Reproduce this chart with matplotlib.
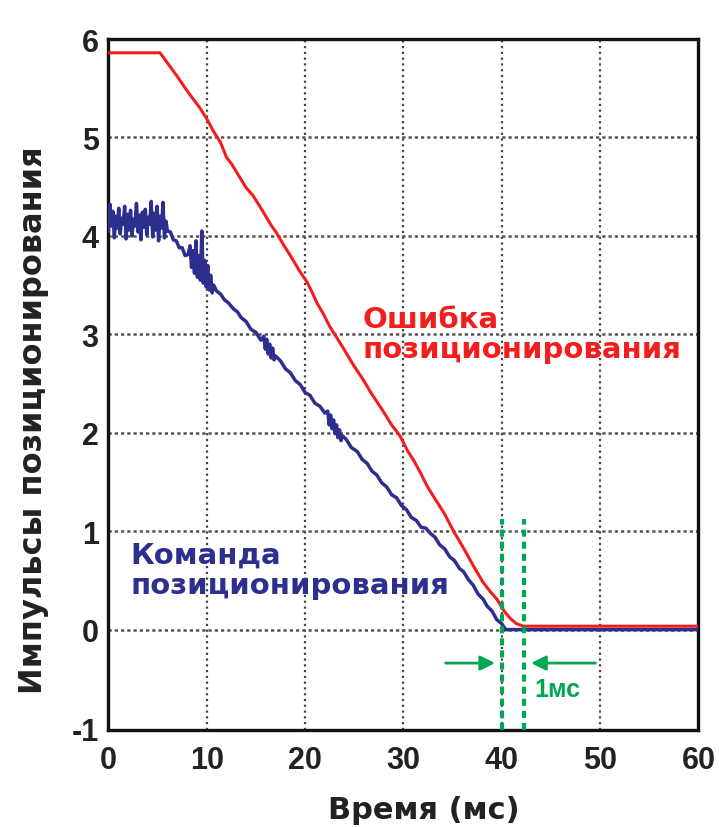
import matplotlib
matplotlib.use('Agg')
import matplotlib.pyplot as plt

plt.rcParams['axes.unicode_minus'] = False

# --- data ---
# position error (red)
err_t = [0, 5.25, 6.2, 7.0, 8.1, 9.3, 10.0, 10.7, 11.4, 12.0, 12.6, 13.2, 14.0, 14.7,
         15.4, 16.0, 16.6, 17.1, 17.8, 18.5, 19.4, 20.2, 20.7, 21.2, 21.9, 22.5,
         23.2, 24.0, 24.9, 25.9, 26.8, 27.8, 28.8, 29.7, 30.4, 31.1, 31.8, 32.4,
         33.2, 34.1, 35.1, 36.1, 37.1, 38.1, 38.8, 39.5, 40.3, 40.9, 41.5, 42.2, 60]
err_y = [5.86, 5.86, 5.73, 5.62, 5.46, 5.30, 5.19, 5.06, 4.95, 4.80, 4.72, 4.62, 4.49, 4.41,
         4.30, 4.20, 4.10, 4.03, 3.91, 3.80, 3.65, 3.53, 3.43, 3.32, 3.20, 3.08,
         2.97, 2.84, 2.69, 2.54, 2.39, 2.24, 2.08, 1.96, 1.82, 1.71, 1.58, 1.46,
         1.33, 1.19, 1.00, 0.83, 0.65, 0.48, 0.39, 0.31, 0.18, 0.11, 0.06, 0.035, 0.035]

# position command (blue)
cmd_t = [0.0, 0.15, 0.3, 0.45, 0.6, 0.75, 0.9, 1.05, 1.2, 1.35, 1.5, 1.65, 1.8, 1.95,
         2.1, 2.25, 2.4, 2.55, 2.7, 2.85, 3.0, 3.15, 3.3, 3.45, 3.6, 3.75, 3.9, 4.05,
         4.2, 4.35, 4.5, 4.65, 4.8, 4.95, 5.1, 5.25, 5.4, 5.55, 5.7, 5.85, 6.0,
         6.3, 6.6, 6.9, 7.2, 7.5, 7.8, 8.1,
         8.3, 8.45, 8.6, 8.75, 8.9, 9.05, 9.2, 9.35, 9.5, 9.65, 9.8, 9.95, 10.1, 10.25,
         10.4, 10.55, 10.7,
         11.0, 11.4, 11.8, 12.2, 12.7, 13.1, 13.5, 14.0, 14.5, 15.0, 15.5,
         15.8, 15.95, 16.1, 16.25, 16.4, 16.55, 16.7, 16.85, 17.0,
         17.5, 18.0, 18.5, 19.0, 19.5, 20.0, 20.5, 21.0, 21.5, 22.0,
         22.3, 22.45, 22.6, 22.75, 22.9, 23.05, 23.2, 23.35, 23.5, 23.65, 23.8,
         24.2, 24.7, 25.3, 25.8, 26.3, 26.8, 27.3, 27.8, 28.3, 28.8, 29.3, 29.8,
         30.3, 30.8, 31.3, 31.8, 32.3, 32.7, 33.2, 33.7, 34.2, 34.7, 35.2, 35.7,
         36.1, 36.6, 37.1, 37.6, 38.1, 38.5, 39.0, 39.5, 40.0, 40.4, 60]
cmd_y = [4.05, 4.32, 4.10, 4.25, 3.98, 4.20, 4.08, 4.28, 4.02, 4.18, 4.12, 4.30, 3.97, 4.22,
         4.06, 4.26, 4.00, 4.17, 4.10, 4.33, 4.04, 4.21, 3.96, 4.24, 4.09, 4.27, 4.01, 4.19,
         4.12, 4.35, 3.99, 4.23, 4.06, 4.30, 3.95, 4.20, 4.08, 4.34, 3.98, 4.15, 4.05,
         4.04, 3.96, 3.95, 3.88, 3.88, 3.80, 3.81,
         3.90, 3.68, 3.85, 3.62, 3.95, 3.58, 3.80, 3.55, 4.05, 3.52, 3.75, 3.48, 3.70, 3.45,
         3.60, 3.42, 3.50,
         3.44, 3.41, 3.35, 3.32, 3.26, 3.23, 3.17, 3.13, 3.05, 3.02, 2.94,
         2.98, 2.85, 2.95, 2.80, 2.90, 2.76, 2.86, 2.74, 2.78,
         2.73, 2.65, 2.61, 2.53, 2.49, 2.41, 2.38, 2.30, 2.27, 2.20,
         2.22, 2.08, 2.18, 2.04, 2.13, 1.99, 2.08, 1.95, 2.03, 1.92, 1.97,
         1.93, 1.85, 1.81, 1.73, 1.69, 1.61, 1.57, 1.49, 1.45, 1.37, 1.34, 1.26,
         1.22, 1.14, 1.11, 1.04, 1.03, 0.98, 0.94, 0.86, 0.82, 0.74, 0.70, 0.62,
         0.59, 0.51, 0.45, 0.36, 0.31, 0.24, 0.19, 0.10, 0.06, 0.0, 0.0]

x_ticks = [0, 10, 20, 30, 40, 50, 60]
y_ticks = [-1, 0, 1, 2, 3, 4, 5, 6]
settle_marks = [40.0, 42.25]   # green dashed lines, 1 ms apart on the label

RED = '#f21d1d'
BLUE = '#2d2f8e'
GREEN = '#00a651'
TICKFONT = 'Liberation Sans'
LABELFONT = 'DejaVu Sans'

fig = plt.figure(figsize=(7.19, 8.29), dpi=100)
ax = fig.add_axes([0.1508, 0.1182, 0.8206, 0.8335])

ax.set_xlim(0, 60)
ax.set_ylim(-1.02, 6.0)
ax.set_xticks(x_ticks)
ax.set_yticks(y_ticks)
ax.tick_params(length=0, labelsize=22)
ax.tick_params(axis='x', pad=11)
ax.tick_params(axis='y', pad=7)
for lab in ax.get_xticklabels() + ax.get_yticklabels():
    lab.set_fontfamily(TICKFONT)
    lab.set_fontweight('bold')
    lab.set_color('#222222')

for s in ax.spines.values():
    s.set_linewidth(2.4)
    s.set_color('#111111')

for x in x_ticks[1:-1]:
    ax.axvline(x, color='#444444', lw=1.6, ls=(0, (1, 1.6)), zorder=1)
for y in y_ticks[1:-1]:
    ax.axhline(y, color='#555555', lw=1.8, ls=(0, (1.3, 1.2)), zorder=1)

ax.plot(err_t, err_y, color=RED, lw=2.2, zorder=3)
ax.plot(cmd_t, cmd_y, color=BLUE, lw=2.5, zorder=4)

# settling window
for xm in settle_marks:
    ax.vlines(xm, -1.02, 1.12, color=GREEN, lw=3.0, ls=(0, (1.7, 1.2)), zorder=5)
arr = dict(arrowstyle='-|>', color=GREEN, lw=2.0, mutation_scale=22)
ax.annotate('', xy=(39.6, -0.34), xytext=(34.0, -0.34), arrowprops=arr)
ax.annotate('', xy=(42.7, -0.34), xytext=(49.8, -0.34), arrowprops=arr)
ax.text(43.3, -0.6, '1мс', color=GREEN, fontsize=18, fontweight='bold',
        family=TICKFONT, va='center', ha='left')

ax.text(25.8, 3.0, 'Ошибка\nпозиционирования', color=RED, fontsize=21,
        fontweight='bold', family=LABELFONT, va='center', ha='left', linespacing=1.1)
ax.text(2.2, 0.61, 'Команда\nпозиционирования', color=BLUE, fontsize=21,
        fontweight='bold', family=LABELFONT, va='center', ha='left', linespacing=1.1)

ax.set_xlabel('Время (мс)', fontsize=22, fontweight='bold', family=LABELFONT,
              color='#222222')
ax.xaxis.set_label_coords(0.535, -0.094)
ax.set_ylabel('Импульсы позиционирования', fontsize=23, fontweight='bold',
              family=LABELFONT, color='#222222')
ax.yaxis.set_label_coords(-0.1, 0.45)

plt.savefig('out.png', dpi=100)
